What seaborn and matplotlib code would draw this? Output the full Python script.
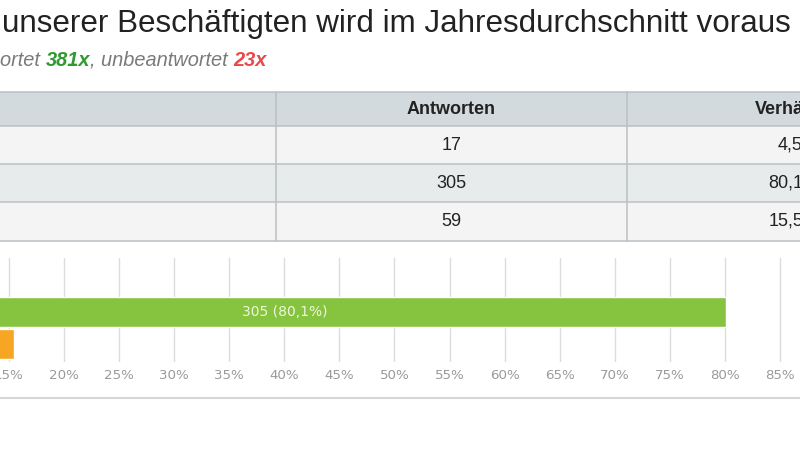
import matplotlib
matplotlib.use("Agg")
import matplotlib.pyplot as plt
import seaborn as sns
import pandas as pd
from matplotlib.patches import Rectangle
from matplotlib.lines import Line2D

# ---- data ----
title_text = "unserer Beschäftigten wird im Jahresdurchschnitt voraus"
subtitle_prefix = "ortet "
answered_label = "381x"
subtitle_mid = ", unbeantwortet "
unanswered_label = "23x"
categories = ["Antwort 1", "Antwort 2", "Antwort 3"]
answers = [17, 305, 59]
percent = [4.5, 80.1, 15.5]
percent_labels = ["4,5%", "80,1%", "15,5%"]
header_labels = ["Antworten", "Verhältnis"]
bar_colors = ["#e8463c", "#86c440", "#f6a623"]
x_ticks = list(range(0, 101, 5))
x_tick_labels = [f"{t}%" for t in x_ticks]

sns.set_theme(style="white")
plt.rcParams["font.family"] = ["Liberation Sans", "DejaVu Sans"]

W, H = 800, 450
fig = plt.figure(figsize=(8, 4.5), dpi=100)
fig.patch.set_facecolor("white")


def fx(px):
    return px / W


def fy(py):
    return 1 - py / H


# ---- title ----
fig.text(fx(2), fy(24), title_text, fontsize=22.6, color="#222222",
         ha="left", va="center")

# ---- subtitle with coloured parts ----
sub_fs = 14.4
t1 = fig.text(fx(0), fy(60), subtitle_prefix, fontsize=sub_fs, style="italic",
              color="#7a7a7a", ha="left", va="bottom")
fig.canvas.draw()
r = fig.canvas.get_renderer()
bb0 = t1.get_window_extent(r)
t1.set_position((fx(0), fy(60) - bb0.height / 2 / H))


def place_after(prev, txt):
    fig.canvas.draw()
    bb = prev.get_window_extent(r)
    txt.set_position((bb.x1 / W, bb.y0 / H))


t2 = fig.text(0, 0, answered_label, fontsize=sub_fs, style="italic",
              weight="bold", color="#2f9a2f", ha="left", va="bottom")
place_after(t1, t2)
t3 = fig.text(0, 0, subtitle_mid, fontsize=sub_fs, style="italic",
              color="#7a7a7a", ha="left", va="bottom")
place_after(t2, t3)
t4 = fig.text(0, 0, unanswered_label, fontsize=sub_fs, style="italic",
              weight="bold", color="#e84a4a", ha="left", va="bottom")
place_after(t3, t4)

# ---- table ----
line_col = "#b9c1c4"
rows = [(92, 126, "#d3dadd"), (126, 164, "#f4f4f5"), (164, 202.5, "#e8ebec"),
        (202.5, 240.5, "#f4f4f5")]
for top, bot, col in rows:
    fig.add_artist(Rectangle((fx(-5), fy(bot)), fx(815), (bot - top) / H,
                             transform=fig.transFigure, facecolor=col,
                             edgecolor="none", zorder=0))
for yy in [92, 126, 164, 202.5, 240.5]:
    fig.add_artist(Line2D([fx(-5), fx(810)], [fy(yy), fy(yy)],
                          transform=fig.transFigure, color=line_col, lw=1.1))
for xx in [276, 627]:
    fig.add_artist(Line2D([fx(xx), fx(xx)], [fy(92), fy(240.5)],
                          transform=fig.transFigure, color=line_col, lw=1.1))

fig.text(fx(451.5), fy(109), header_labels[0], fontsize=13, weight="bold",
         color="#222222", ha="center", va="center")
fig.text(fx(755), fy(109), header_labels[1], fontsize=13, weight="bold",
         color="#222222", ha="left", va="center")
row_centers = [145, 183.3, 221.5]
for yc, a, p in zip(row_centers, answers, percent_labels):
    fig.text(fx(451.5), fy(yc), str(a), fontsize=13, color="#222222",
             ha="center", va="center")
    fig.text(fx(819), fy(yc), p, fontsize=13, color="#222222",
             ha="right", va="center")

# ---- bar chart ----
ax = fig.add_axes([fx(-156.3), fy(362), 1101.5 / W, 104 / H])
df = pd.DataFrame({"cat": categories, "pct": percent})
sns.barplot(data=df, x="pct", y="cat", hue="cat", palette=bar_colors,
            legend=False, width=0.92, saturation=1, ax=ax)
ax.set_xlim(0, 100)
ax.set_ylim(2.55, -0.65)
ax.set_xticks(x_ticks)
ax.set_xticklabels(x_tick_labels, fontfamily="DejaVu Sans", fontsize=9.6,
                   color="#9a9a9a")
ax.tick_params(axis="x", length=0, pad=5)
ax.set_yticks([])
ax.set_xlabel("")
ax.set_ylabel("")
ax.grid(axis="x", color="#dcdcdc", lw=1)
ax.set_axisbelow(True)
for s in ax.spines.values():
    s.set_visible(False)
ax.patch.set_alpha(0)

# label only bars wide enough to hold their label
for cont, a, p in zip(ax.containers, answers, percent):
    if p < 10:
        continue
    lab = f"{a} ({p:.1f}%)".replace(".", ",")
    ax.bar_label(cont, labels=[lab], label_type="center", fontsize=10,
                 fontfamily="DejaVu Sans", color="#eef6dc")

fig.add_artist(Line2D([0, 1], [fy(398), fy(398)], transform=fig.transFigure,
                      color="#d6d6d6", lw=1.5))

fig.savefig("out.png", dpi=100, facecolor="white")
